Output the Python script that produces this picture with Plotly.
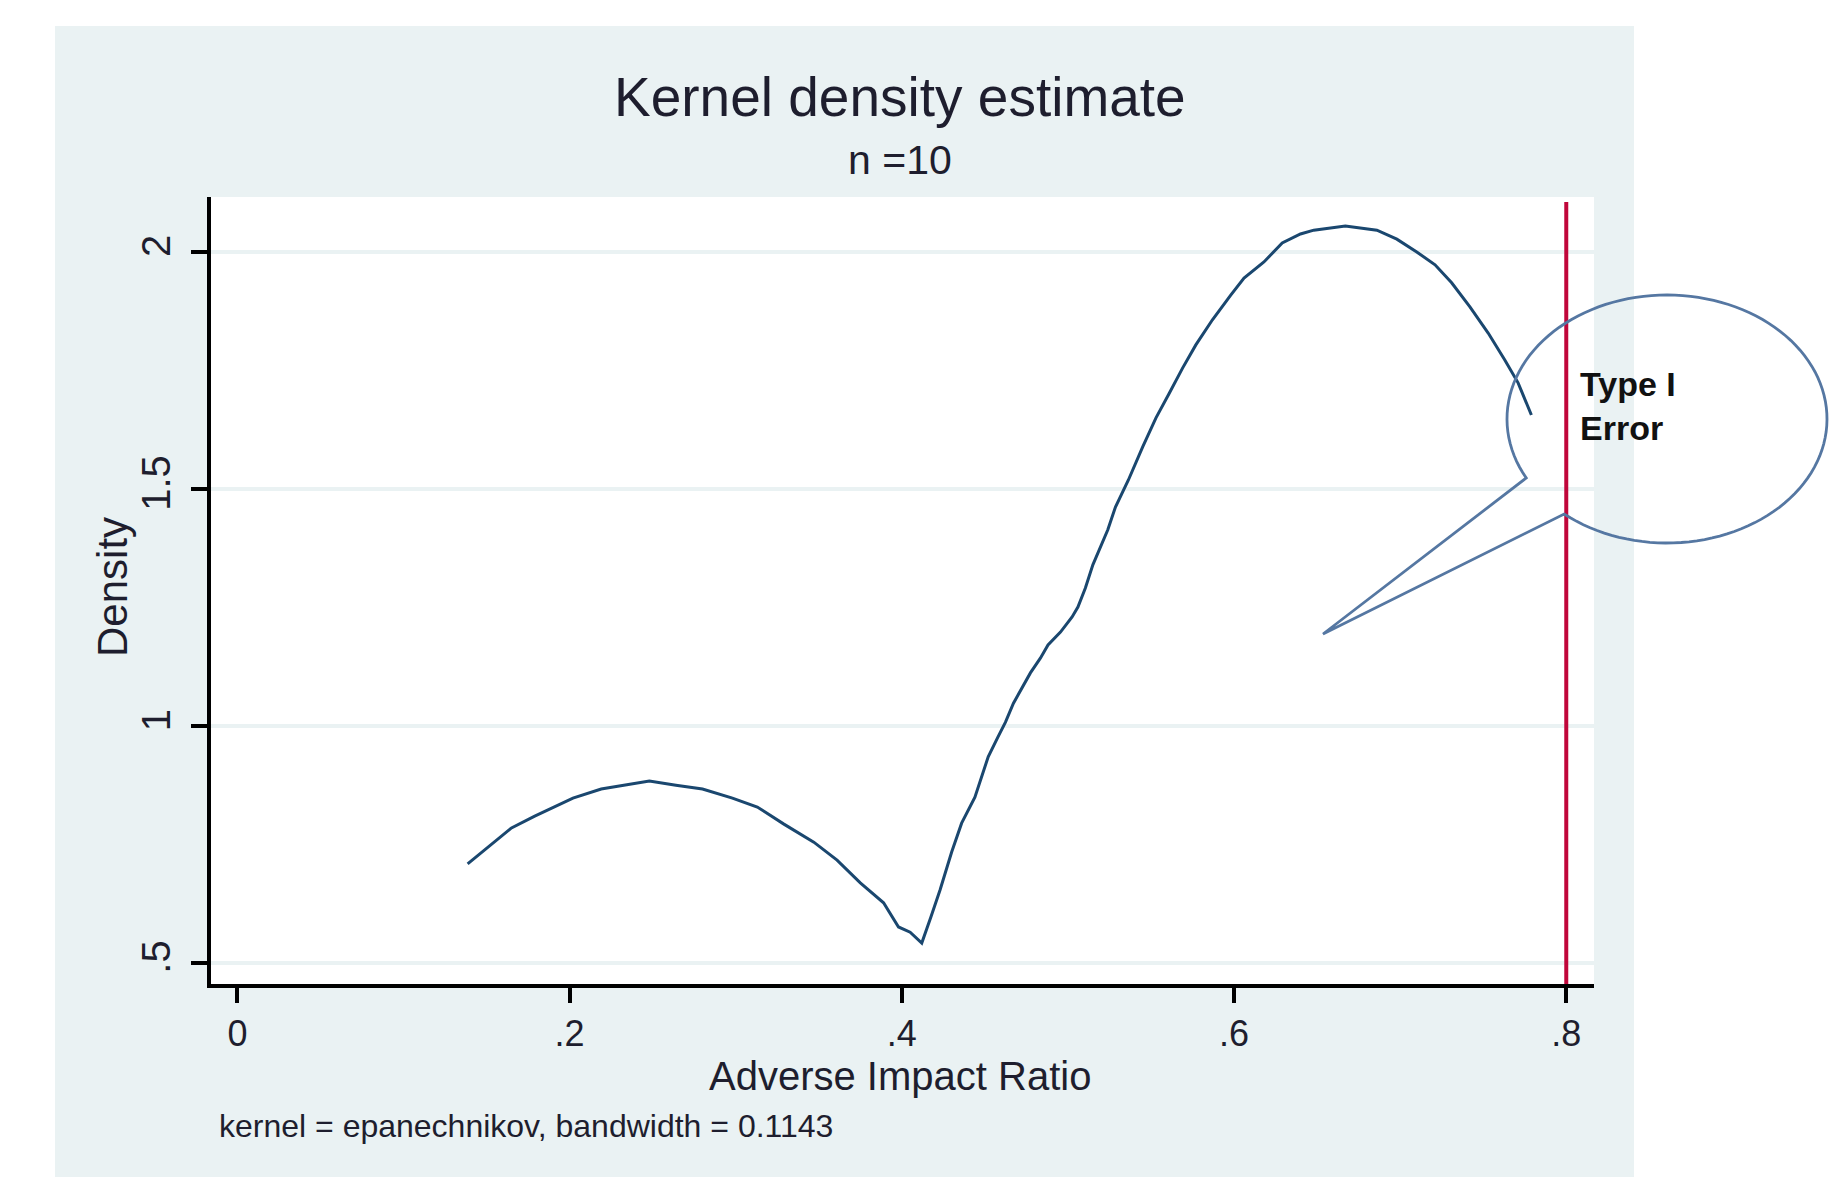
import math
import plotly.graph_objects as go

# Kernel density estimate of the adverse impact ratio (n = 10)
air_x = [0.1386, 0.151, 0.165, 0.179, 0.202, 0.219, 0.233, 0.248, 0.264, 0.280,
         0.298, 0.313, 0.329, 0.347, 0.361, 0.375, 0.389, 0.398, 0.405, 0.412,
         0.4175, 0.423, 0.430, 0.436, 0.444, 0.452, 0.4576, 0.4624, 0.4672, 0.4726,
         0.4774, 0.4834, 0.488, 0.4955, 0.5025, 0.506, 0.5105, 0.515, 0.524, 0.5286,
         0.5364, 0.545, 0.553, 0.561, 0.569, 0.577, 0.587, 0.598, 0.606, 0.618,
         0.629, 0.640, 0.648, 0.667, 0.686, 0.698, 0.710, 0.721, 0.731, 0.742,
         0.753, 0.763, 0.771, 0.779]
density_y = [0.709, 0.745, 0.785, 0.810, 0.848, 0.867, 0.875, 0.884, 0.875, 0.867,
             0.848, 0.829, 0.793, 0.755, 0.717, 0.669, 0.627, 0.576, 0.565, 0.542,
             0.597, 0.654, 0.734, 0.795, 0.850, 0.935, 0.975, 1.008, 1.048, 1.082,
             1.112, 1.143, 1.171, 1.198, 1.230, 1.251, 1.291, 1.340, 1.414, 1.462,
             1.519, 1.589, 1.650, 1.702, 1.755, 1.804, 1.857, 1.909, 1.945, 1.979,
             2.019, 2.038, 2.046, 2.055, 2.046, 2.027, 2.000, 1.973, 1.935, 1.884,
             1.829, 1.772, 1.724, 1.656]

# Four-fifths rule cut-off
cutoff = 0.8

x_tickvals = [0, 0.2, 0.4, 0.6, 0.8]
x_ticktext = ["0", ".2", ".4", ".6", ".8"]
y_tickvals = [0.5, 1, 1.5, 2]
y_ticktext = [".5", "1", "1.5", "2"]

title_text = "Kernel density estimate"
subtitle_text = "n =10"
x_title = "Adverse Impact Ratio"
y_title = "Density"
note_text = "kernel = epanechnikov, bandwidth = 0.1143"
callout_text = "Type I<br>Error"

W, H = 1841, 1177
ML, MR, MT, MB = 211, 247, 197, 193
PW, PH = W - ML - MR, H - MT - MB

BG = "#eaf2f3"
NAVY = "#1a476f"
CRANBERRY = "#c0063a"
FONT = "Liberation Sans, Arial, sans-serif"
TEXT = "#1e1e2e"


def to_paper(px, py):
    """Convert page pixel position to paper coordinates."""
    return (px - ML) / PW, (MT + PH - py) / PH


fig = go.Figure()

fig.add_trace(go.Scatter(
    x=air_x, y=density_y, mode="lines",
    line=dict(color=NAVY, width=3),
    hoverinfo="skip", showlegend=False,
))

shapes = []
# graph region background and white plot region
bx0, by0 = to_paper(55, 1200)
bx1, by1 = to_paper(1634, 26)
shapes.append(dict(type="rect", xref="paper", yref="paper", x0=bx0, y0=by0,
                   x1=bx1, y1=by1, fillcolor=BG, line=dict(width=0), layer="below"))
shapes.append(dict(type="rect", xref="paper", yref="paper", x0=0, y0=0,
                   x1=1, y1=1, fillcolor="white", line=dict(width=0), layer="below"))

# vertical reference line at the cut-off
_, ltop = to_paper(0, 202)
shapes.append(dict(type="line", xref="x", yref="paper", x0=cutoff, x1=cutoff,
                   y0=0, y1=ltop, line=dict(color=CRANBERRY, width=4), layer="above"))

# speech-bubble callout (ellipse with a pointer)
cx, cy, rx, ry = 1667, 419, 160, 124
tip = (1323, 634)
a_start = math.radians(130.0)
a_end = math.radians(151.6 - 360.0)
steps = 120
pts = [tip]
for i in range(steps + 1):
    a = a_start + (a_end - a_start) * i / steps
    pts.append((cx + rx * math.cos(a), cy + ry * math.sin(a)))
pts.append(tip)
path = ""
for i, (px, py) in enumerate(pts):
    X, Y = to_paper(px, py)
    path += ("M" if i == 0 else "L") + f"{X:.5f},{Y:.5f} "
path += "Z"
shapes.append(dict(type="path", xref="paper", yref="paper", path=path,
                   line=dict(color="#5577a2", width=2.8), fillcolor="rgba(0,0,0,0)",
                   layer="above"))

annotations = []


def add_text(text, px, py, size, xanchor="center", yanchor="middle", angle=0,
             bold=False, color=TEXT, align="center"):
    X, Y = to_paper(px, py)
    annotations.append(dict(
        text=f"<b>{text}</b>" if bold else text, x=X, y=Y, xref="paper", yref="paper",
        xanchor=xanchor, yanchor=yanchor, showarrow=False, textangle=angle,
        align=align, font=dict(family=FONT, size=size, color=color),
    ))


add_text(title_text, 900, 97, 55)
add_text(subtitle_text, 900, 160, 41)
add_text(x_title, 900, 1076, 40)
add_text(y_title, 112, 587, 42, angle=-90)
add_text(note_text, 217, 1126, 32, xanchor="left")
add_text(callout_text, 1578, 406, 34, xanchor="left", bold=True, color="#111111",
         align="left")

fig.update_layout(
    width=W, height=H,
    margin=dict(l=ML, r=MR, t=MT, b=MB, pad=0),
    paper_bgcolor="white", plot_bgcolor="white",
    shapes=shapes, annotations=annotations,
    showlegend=False,
)

fig.update_xaxes(
    range=[-0.0159, 0.8167], tickvals=x_tickvals, ticktext=x_ticktext,
    showgrid=False, zeroline=False,
    showline=True, linecolor="black", linewidth=4,
    ticks="outside", ticklen=15, tickwidth=4, tickcolor="black",
    tickfont=dict(family=FONT, size=36, color=TEXT),
    ticklabelstandoff=0,
)
fig.update_yaxes(
    range=[0.4557, 2.116], tickvals=y_tickvals, ticktext=y_ticktext,
    showgrid=True, gridcolor=BG, gridwidth=4, zeroline=False,
    showline=True, linecolor="black", linewidth=4,
    ticks="outside", ticklen=16, tickwidth=4, tickcolor="black",
    tickangle=-90,
    tickfont=dict(family=FONT, size=40, color=TEXT),
    ticklabelstandoff=5,
)

fig.write_html("out.html", config={"displayModeBar": False})
